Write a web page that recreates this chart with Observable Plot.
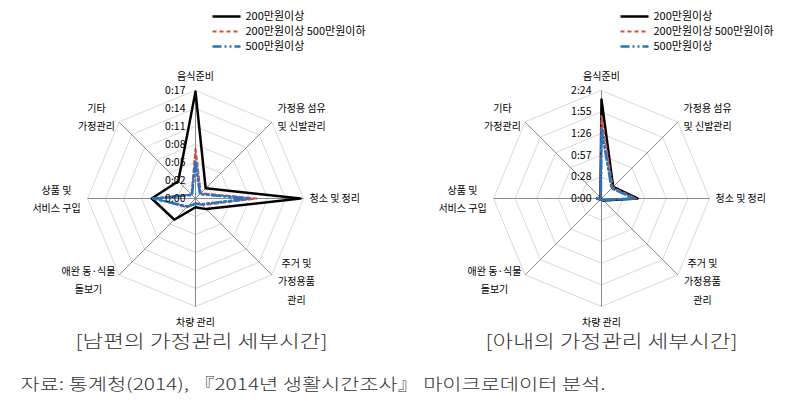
<!DOCTYPE html>
<html><head><meta charset="utf-8">
<script src="https://cdn.jsdelivr.net/npm/d3@7"></script>
<script src="https://cdn.jsdelivr.net/npm/@observablehq/plot@0.6"></script>
<style>body{margin:0;background:#fff} svg{display:block}</style>
</head><body><div id="chart"></div>
<script>
// ---------- data ----------
const categories = ["음식준비","가정용 섬유 및 신발관리","청소 및 정리","주거 및 가정용품 관리","차량 관리","애완 동·식물 돌보기","상품 및 서비스 구입","기타 가정관리"];
const categoryLines = [["음식준비"],["가정용 섬유","및 신발관리"],["청소 및 정리"],["주거 및","가정용품","관리"],["차량 관리"],["애완 동·식물","돌보기"],["상품 및","서비스 구입"],["기타","가정관리"]];
const seriesNames = ["200만원이상","200만원이상 500만원이하","500만원이상"];
// minutes per day
const husbandLow  = [17.1, 2.3, 16.8, 2.4, 1.4, 4.8, 7.0, 3.9];
const husbandMid  = [8.0, 1.2, 9.8, 1.5, 0.9, 2.0, 6.6, 0.9];
const husbandHigh = [5.8, 1.0, 8.6, 1.3, 0.8, 1.8, 6.8, 0.8];
const wifeLow  = [132, 22, 48, 4, 1.5, 2, 6, 2];
const wifeMid  = [110, 21, 46, 3, 1.5, 2, 8, 2];
const wifeHigh = [92, 19, 44, 3, 1, 2, 5, 1];
const husbandTickValues = [0, 2.88, 5.76, 8.64, 11.52, 14.4, 17.28];
const husbandTickLabels = ["0:00","0:02","0:05","0:08","0:11","0:14","0:17"];
const wifeTickValues = [0, 28.8, 57.6, 86.4, 115.2, 144];
const wifeTickLabels = ["0:00","0:28","0:57","1:26","1:55","2:24"];
const panelTitles = ["[남편의 가정관리 세부시간]","[아내의 가정관리 세부시간]"];
const sourceNote = "자료: 통계청(2014), 『2014년 생활시간조사』 마이크로데이터 분석.";

// ---------- layout ----------
const W = 793, H = 416;
const panels = [
  {cx:195, cy:198, R:108, values:[husbandLow,husbandMid,husbandHigh], ticks:husbandTickValues, tickLabels:husbandTickLabels, legendX:212, titleX:75, title:panelTitles[0]},
  {cx:601, cy:198, R:108, values:[wifeLow,wifeMid,wifeHigh], ticks:wifeTickValues, tickLabels:wifeTickLabels, legendX:620, titleX:485, title:panelTitles[1]}
];
const labelPlace = [
  {dx:0, dy:-122, anchor:"middle"},
  {dx:82, dy:-90, anchor:"start"},
  {dx:114, dy:0, anchor:"start"},
  {dx:101, dy:65, anchor:"middle"},
  {dx:0, dy:124, anchor:"middle"},
  {dx:-107, dy:73, anchor:"middle"},
  {dx:-139, dy:-8, anchor:"middle"},
  {dx:-99, dy:-90, anchor:"middle"}
];
const lineGap = 18.5;
const styles = [
  {stroke:"#000000", strokeWidth:2.5, dash:null},
  {stroke:"#C9524D", strokeWidth:2, dash:"4,3"},
  {stroke:"#1F77C4", strokeWidth:2.5, dash:"9,3,2,3,2,3"}
];

const pt = (p, i, v) => {
  const max = p.ticks[p.ticks.length - 1];
  const r = v / max * p.R;
  const a = i * Math.PI / 4;
  return {x: p.cx + r * Math.sin(a), y: p.cy - r * Math.cos(a)};
};

const rings = [], spokes = [], tickText = [], series = [[],[],[]], labels = [], legendLines = [], legendText = [];
panels.forEach((p, pi) => {
  p.ticks.forEach((t, ti) => {
    if (t > 0) categories.forEach((c, i) => rings.push({z:`${pi}-${ti}`, ...pt(p, i, t)}));
    tickText.push({x: p.cx - 10, y: pt(p, 0, t).y, text: p.tickLabels[ti]});
  });
  const max = p.ticks[p.ticks.length - 1];
  categories.forEach((c, i) => {
    const e = pt(p, i, max);
    spokes.push({x1:p.cx, y1:p.cy, x2:e.x, y2:e.y});
    categoryLines[i].forEach((ln, li) => {
      labels.push({x: p.cx + labelPlace[i].dx, y: p.cy + labelPlace[i].dy + li * lineGap, text: ln, anchor: labelPlace[i].anchor});
    });
  });
  p.values.forEach((vals, si) => {
    vals.forEach((v, i) => series[si].push({z: pi, ...pt(p, i, v)}));
    legendLines.push({si, x1:p.legendX, x2:p.legendX + 28, y:16 + 15 * si});
    legendText.push({x:p.legendX + 33, y:16 + 15 * si, text: seriesNames[si]});
  });
});

const font = "'Noto Sans CJK KR', 'Noto Sans', sans-serif";
const marks = [
  Plot.line(rings, {x:"x", y:"y", z:"z", curve:"linear-closed", stroke:"#d9d9d9", strokeWidth:1}),
  Plot.link(spokes, {x1:"x1", y1:"y1", x2:"x2", y2:"y2", stroke:"#8a8a8a", strokeWidth:1}),
  ...series.map((rows, si) => Plot.line(rows, {x:"x", y:"y", z:"z", curve:"linear-closed", stroke:styles[si].stroke, strokeWidth:styles[si].strokeWidth, strokeDasharray:styles[si].dash, strokeLinejoin:"round"})),
  Plot.text(tickText, {x:"x", y:"y", text:"text", textAnchor:"end", fontSize:10.5, fill:"#000"}),
  Plot.text(labels.filter(d => d.anchor === "start"), {x:"x", y:"y", text:"text", textAnchor:"start", fontSize:10, fill:"#000"}),
  Plot.text(labels.filter(d => d.anchor === "middle"), {x:"x", y:"y", text:"text", textAnchor:"middle", fontSize:10, fill:"#000"}),
  ...styles.map((s, si) => Plot.link(legendLines.filter(d => d.si === si), {x1:"x1", x2:"x2", y1:"y", y2:"y", stroke:s.stroke, strokeWidth:s.strokeWidth, strokeDasharray:s.dash})),
  Plot.text(legendText, {x:"x", y:"y", text:"text", textAnchor:"start", fontSize:11, fill:"#000"}),
  Plot.text(panels, {x:"titleX", y:() => 342, text:"title", textAnchor:"start", fontSize:18, fontWeight:300, fill:"#333"}),
  Plot.text([sourceNote], {x:() => 20, y:() => 384, text:d => d, textAnchor:"start", fontSize:16, fontWeight:300, fill:"#333"})
];

const chart = Plot.plot({
  width: W, height: H, margin: 0,
  x: {domain:[0, W], range:[0, W], axis:null},
  y: {domain:[0, H], range:[0, H], axis:null},
  style: {fontFamily: font, background:"#fff", overflow:"visible"},
  marks
});
document.getElementById("chart").append(chart);
const svg = d3.select(chart);
svg.selectAll("text").each(function() {
  const t = this.textContent;
  if (panelTitles.includes(t)) d3.select(this).attr("textLength", 252).attr("lengthAdjust", "spacingAndGlyphs");
  if (t === sourceNote) d3.select(this).attr("textLength", 585).attr("lengthAdjust", "spacingAndGlyphs");
});
</script>
</body></html>
